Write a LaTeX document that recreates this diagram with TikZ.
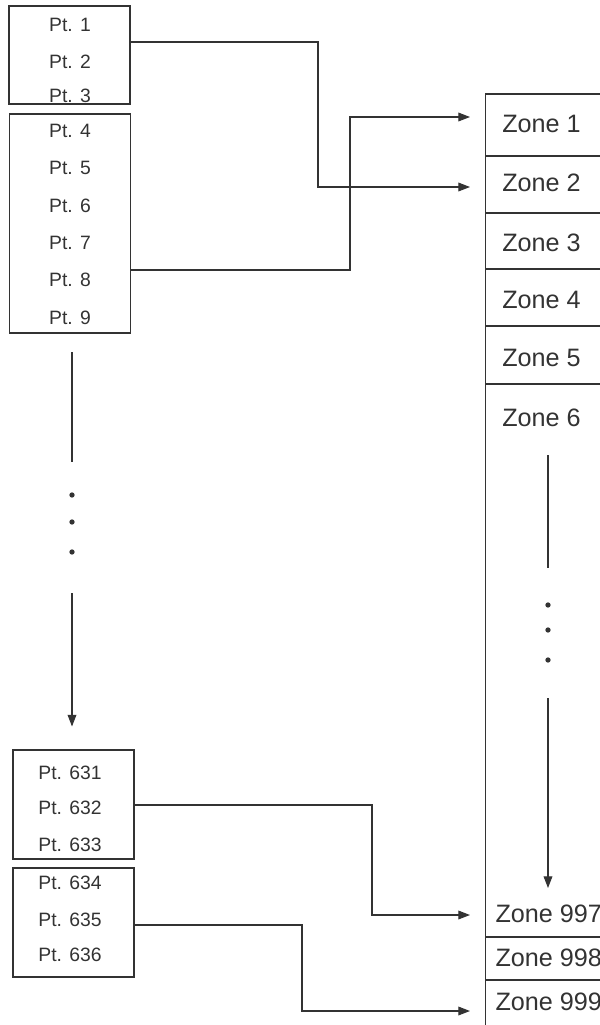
\documentclass[tikz,border=0pt]{standalone}
\usepackage{fontspec}
\setmainfont{Liberation Sans}
\usetikzlibrary{arrows.meta}

\begin{document}
\begin{tikzpicture}[x=0.03cm, y=-0.03cm, >={Triangle[length=10pt,width=7.5pt]},
  line width=0.9pt, color=black!80,
  ptbox/.style={draw, rectangle, minimum width=3.63cm, inner sep=0pt},
  ptlab/.style={font=\fontsize{16.5}{18}\selectfont, inner sep=0pt},
  zonecell/.style={draw, rectangle, minimum width=6cm, inner sep=0pt, anchor=west},
  zonelab/.style={font=\fontsize{21.5}{23}\selectfont, inner sep=0pt},
  dotmark/.style={circle, fill, inner sep=0pt, minimum size=4.5pt},
  conn/.style={->, shorten >=0.45cm}]
\useasboundingbox (0,0) rectangle (600,1025);
\clip (0,0) rectangle (600,1025);

% point groups
\node[ptbox, minimum height=2.94cm] (ptA) at (69.5,55) {};
\node[ptbox, minimum height=6.57cm] (ptB) at (70,223.5) {};
\node[ptbox, minimum height=3.27cm] (ptC) at (73.5,804.5) {};
\node[ptbox, minimum height=3.27cm] (ptD) at (73.5,922.5) {};

\node[ptlab] (p1) at (70,25) {Pt. 1};
\node[ptlab] (p2) at (70,62) {Pt. 2};
\node[ptlab] (p3) at (70,96) {Pt. 3};
\node[ptlab] (p4) at (70,131) {Pt. 4};
\node[ptlab] (p5) at (70,168) {Pt. 5};
\node[ptlab] (p6) at (70,206) {Pt. 6};
\node[ptlab] (p7) at (70,243) {Pt. 7};
\node[ptlab] (p8) at (70,280) {Pt. 8};
\node[ptlab] (p9) at (70,318) {Pt. 9};
\node[ptlab] (p631) at (70,773) {Pt. 631};
\node[ptlab] (p632) at (70,808) {Pt. 632};
\node[ptlab] (p633) at (70,845) {Pt. 633};
\node[ptlab] (p634) at (70,883) {Pt. 634};
\node[ptlab] (p635) at (70,920) {Pt. 635};
\node[ptlab] (p636) at (70,955) {Pt. 636};

% zones
\node[zonecell, minimum height=1.86cm] (z1) at (485,125) {};
\node[zonecell, minimum height=1.71cm] (z2) at (485,184.5) {};
\node[zonecell, minimum height=1.68cm] (z3) at (485,241) {};
\node[zonecell, minimum height=1.71cm] (z4) at (485,297.5) {};
\node[zonecell, minimum height=1.74cm] (z5) at (485,355) {};
\node[zonecell, minimum height=16.59cm] (z6) at (485,660.5) {};
\node[zonecell, minimum height=1.29cm] (z998) at (485,958.5) {};
\node[zonecell, minimum height=3cm] (z999) at (485,1030) {};

\node[zonelab] (zl1) at (541.5,124) {Zone 1};
\node[zonelab] (zl2) at (541.5,183) {Zone 2};
\node[zonelab] (zl3) at (541.5,243) {Zone 3};
\node[zonelab] (zl4) at (541.5,300) {Zone 4};
\node[zonelab] (zl5) at (541.5,358) {Zone 5};
\node[zonelab] (zl6) at (541.5,418) {Zone 6};
\node[zonelab, anchor=west] (zl997) at (495,914) {Zone 997};
\node[zonelab, anchor=west] (zl998) at (495,958) {Zone 998};
\node[zonelab, anchor=west] (zl999) at (495,1002) {Zone 999};

% links
\coordinate (a1) at (318,42);
\coordinate (a2) at (318,187);
\draw[conn] (ptA.east |- a1) -- (a1) -- (a2) -- (z2.west |- a2);
\coordinate (b1) at (350,270);
\coordinate (b2) at (350,117);
\draw[conn] (ptB.east |- b1) -- (b1) -- (b2) -- (z1.west |- b2);
\coordinate (c1) at (372,805);
\coordinate (c2) at (372,915);
\draw[conn] (ptC.east |- c1) -- (c1) -- (c2) -- (z6.west |- c2);
\coordinate (d1) at (302,925);
\coordinate (d2) at (302,1011);
\draw[conn] (ptD.east |- d1) -- (d1) -- (d2) -- (z999.west |- d2);

% skipped points
\coordinate (l1) at (72,352);
\coordinate (l2) at (72,462);
\coordinate (l3) at (72,593);
\draw (l1) -- (l2);
\node[dotmark] (ld1) at (72,495) {};
\node[dotmark] (ld2) at (72,522) {};
\node[dotmark] (ld3) at (72,552) {};
\draw[->, shorten >=0.69cm] (l3) -- (l3 |- ptC.north);

% skipped zones
\coordinate (r1) at (548,455);
\coordinate (r2) at (548,568);
\coordinate (r3) at (548,698);
\coordinate (r4) at (548,888);
\draw (r1) -- (r2);
\node[dotmark] (rd1) at (548,605) {};
\node[dotmark] (rd2) at (548,630) {};
\node[dotmark] (rd3) at (548,660) {};
\draw[->] (r3) -- (r4);
\end{tikzpicture}
\end{document}
